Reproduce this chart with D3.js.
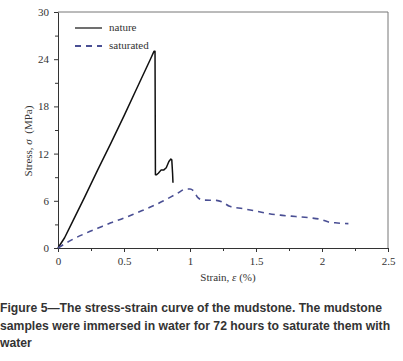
<!DOCTYPE html>
<html><head><meta charset="utf-8">
<script src="https://cdn.jsdelivr.net/npm/d3@7"></script>
<style>body{margin:0;background:#fff}svg{display:block}</style>
</head><body>
<svg id="c" width="403" height="361"></svg>
<script>
const natureStrain = [0,0.05,0.1,0.2,0.3,0.4,0.5,0.6,0.7,0.727,0.735,0.738,0.745,0.76,0.78,0.80,0.82,0.84,0.855,0.862,0.868,0.871];
const natureStress = [0,1.3,3.0,6.4,9.9,13.3,16.8,20.4,24.0,25.0,25.0,9.3,9.3,9.5,9.9,9.9,10.2,11.0,11.3,11.2,9.5,8.3];
const satStrain = [0,0.1,0.2,0.3,0.4,0.5,0.6,0.7,0.8,0.9,0.97,1.0,1.03,1.06,1.1,1.2,1.25,1.3,1.4,1.5,1.6,1.7,1.8,1.9,2.0,2.05,2.1,2.2];
const satStress = [0,1.0,1.8,2.5,3.2,3.8,4.5,5.2,6.0,6.9,7.5,7.5,7.2,6.4,6.1,6.05,5.8,5.3,5.0,4.7,4.35,4.15,4.0,3.85,3.6,3.3,3.2,3.1];
const xTicks = [0,0.5,1,1.5,2,2.5];
const xTickLabels = ["0","0.5","1","1.5","2","2.5"];
const yTicks = [0,6,12,18,24,30];
const seriesNames = ["nature","saturated"];
const captionLines = ["Figure 5\u2014The stress-strain curve of the mudstone. The mudstone","samples were immersed in water for 72 hours to saturate them with","water"];

const svg = d3.select("#c");
const L=58,R=388,T=12,B=248;
const x = d3.scaleLinear().domain([0,2.5]).range([L,R]);
const y = d3.scaleLinear().domain([0,30]).range([B,T]);
const serif = "'Liberation Serif','Times New Roman',serif";

svg.append("path").attr("d",`M${L},${T}H${R}V${B}`).attr("fill","none").attr("stroke","#777").attr("stroke-width",1);

const xa = svg.append("g").attr("transform",`translate(0,${B})`)
  .call(d3.axisBottom(x).tickValues(xTicks).tickFormat((d,i)=>xTickLabels[i]).tickSize(4).tickSizeOuter(0));
const xm = svg.append("g").attr("transform",`translate(0,${B})`)
  .call(d3.axisBottom(x).tickValues([0.25,0.75,1.25,1.75,2.25]).tickFormat("").tickSize(3).tickSizeOuter(0));
xm.select(".domain").remove();
const ya = svg.append("g").attr("transform",`translate(${L},0)`)
  .call(d3.axisLeft(y).tickValues(yTicks).tickSize(4).tickSizeOuter(0));
const ym = svg.append("g").attr("transform",`translate(${L},0)`)
  .call(d3.axisLeft(y).tickValues([3,9,15,21,27]).tickFormat("").tickSize(3).tickSizeOuter(0));
ym.select(".domain").remove();
svg.selectAll(".tick text").attr("font-family",serif).attr("font-size",11).attr("fill","#333");
xa.selectAll(".tick text").attr("dy","1.05em").attr("y",5);
ya.selectAll(".tick text").attr("x",-9);
svg.selectAll(".domain,.tick line").attr("stroke","#333");

const line = d3.line().x(d=>x(d[0])).y(d=>y(d[1]));
svg.append("path").datum(natureStrain.map((s,i)=>[s,natureStress[i]]))
  .attr("d",line).attr("fill","none").attr("stroke","#111").attr("stroke-width",1.5).attr("stroke-linejoin","round");
svg.append("path").datum(satStrain.map((s,i)=>[s,satStress[i]]))
  .attr("d",d3.line().curve(d3.curveMonotoneX).x(d=>x(d[0])).y(d=>y(d[1])))
  .attr("fill","none").attr("stroke","#4a4f94").attr("stroke-width",1.6).attr("stroke-dasharray","6,5");

const lg = svg.append("g");
lg.append("line").attr("x1",75).attr("x2",102).attr("y1",28).attr("y2",28).attr("stroke","#111").attr("stroke-width",1.2);
lg.append("line").attr("x1",75).attr("x2",102).attr("y1",46).attr("y2",46).attr("stroke","#4a4f94").attr("stroke-width",1.8).attr("stroke-dasharray","6,5");
lg.selectAll("text").data(seriesNames).join("text").attr("x",109).attr("y",(d,i)=>31+i*18)
  .attr("font-family",serif).attr("font-size",11).attr("fill","#333").text(d=>d);

svg.append("text").attr("x",228).attr("y",281).attr("text-anchor","middle").attr("font-family",serif).attr("font-size",11).attr("fill","#333")
  .html("Strain, <tspan font-style='italic'>\u03b5</tspan> (%)");
svg.append("text").attr("transform","translate(32,141) rotate(-90)").attr("text-anchor","middle").attr("font-family",serif).attr("font-size",11).attr("fill","#333")
  .html("Stress, <tspan font-style='italic'>\u03c3</tspan>&#160; (MPa)");

svg.selectAll("text.cap").data(captionLines).join("text").attr("class","cap").attr("x",0).attr("y",(d,i)=>312+i*17.5)
  .attr("font-family","'Liberation Sans',Arial,sans-serif").attr("font-weight","bold").attr("font-size",12.2).attr("fill","#333").text(d=>d);
</script>
</body></html>
